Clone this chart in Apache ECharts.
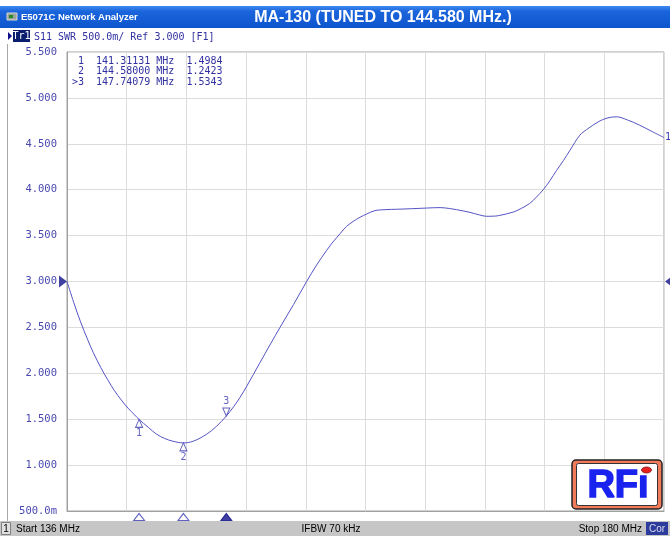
<!DOCTYPE html>
<html><head><meta charset="utf-8">
<script src="https://cdn.jsdelivr.net/npm/echarts@6/dist/echarts.min.js"></script>
<style>html,body{margin:0;padding:0;background:#fff}#c{width:670px;height:536px}</style>
</head><body><div id="c"></div>
<script>
const startMHz = 136, stopMHz = 180;
const freqMHz = [136.0,136.5,137.0,137.5,137.94,138.5,139.0,139.5,140.0,140.5,141.0,141.31,142.0,142.6,143.2,143.8,144.58,145.3,146.3,147.0,147.74,148.3,148.75,149.25,150.2,151.0,151.7,152.7,153.66,154.4,155.14,155.6,156.12,156.6,157.1,157.6,158.08,158.7,159.5,160.3,161.4,162.5,163.5,164.2,164.7,165.7,166.4,166.93,167.5,167.9,168.9,169.4,170.1,170.6,171.1,171.6,172.08,172.6,173.07,173.8,174.3,175.15,175.8,176.5,177.3,178.2,179.1,180.0];
const swr = [3.00,2.77,2.56,2.375,2.225,2.06,1.93,1.81,1.71,1.62,1.545,1.498,1.41,1.337,1.29,1.26,1.242,1.26,1.337,1.42,1.534,1.64,1.737,1.86,2.11,2.32,2.50,2.75,3.00,3.18,3.34,3.43,3.52,3.60,3.655,3.70,3.735,3.772,3.783,3.787,3.793,3.80,3.805,3.795,3.783,3.753,3.725,3.71,3.712,3.72,3.757,3.79,3.85,3.92,4.00,4.10,4.21,4.32,4.43,4.594,4.655,4.739,4.78,4.794,4.76,4.703,4.635,4.568];
const markerNo = [1, 2, 3];
const markerFreq = [141.31131, 144.58000, 147.74079];
const markerSwr = [1.4984, 1.2423, 1.5343];
const activeMarker = 3;
const refLevel = 3.0, scaleDiv = 0.5, yMin = 0.5, yMax = 5.5;
const titleText = 'MA-130 (TUNED TO 144.580 MHz.)';

const span = stopMHz - startMHz;
const trace = freqMHz.map((f, i) => [f - startMHz, swr[i]]);
const blue = '#3a3ab0';
const mono = 'DejaVu Sans Mono';

const mkData = markerNo.map((n, i) => ({
  value: [markerFreq[i] - startMHz, markerSwr[i]],
  name: String(n),
  symbol: n === activeMarker ? 'path://M0,0L10,0L5,10Z' : 'path://M5,0L10,10L0,10Z',
  symbolOffset: n === activeMarker ? [0, -4] : [0, 4],
  label: {position: n === activeMarker ? 'top' : 'bottom'}
}));
const bottomData = markerNo.map((n, i) => ({
  value: [markerFreq[i] - startMHz, yMin],
  itemStyle: n === activeMarker ? {color: '#10108a', borderColor: '#10108a'} : {color: '#fff', borderColor: blue}
}));

const rows = markerNo.map((n, i) => (n === activeMarker ? '>' : ' ') + n + '  ' + markerFreq[i].toFixed(5) + ' MHz  ' + markerSwr[i].toFixed(4));

const chart = echarts.init(document.getElementById('c'), null, {renderer: 'canvas'});
chart.setOption({
  animation: false,
  backgroundColor: '#fff',
  grid: {left: 67, right: 6, top: 52, bottom: 25, show: true, borderColor: '#a0a0a0', borderWidth: 1},
  xAxis: {type: 'value', min: 0, max: span, interval: span / 10,
    axisLabel: {show: false}, axisTick: {show: false},
    axisLine: {show: true, lineStyle: {color: '#a0a0a0'}},
    splitLine: {show: true, lineStyle: {color: '#dcdcdc', width: 1}}},
  yAxis: {type: 'value', min: yMin, max: yMax, interval: scaleDiv,
    axisLine: {show: true, lineStyle: {color: '#a0a0a0'}}, axisTick: {show: false},
    splitLine: {show: true, lineStyle: {color: '#dcdcdc', width: 1}},
    axisLabel: {margin: 10, color: '#4848b0', fontFamily: mono, fontSize: 10.5,
      formatter: v => v < 1 ? (v * 1000).toFixed(1) + 'm' : v.toFixed(3)}},
  series: [
    {type: 'line', data: trace, showSymbol: false, smooth: 0.35,
      lineStyle: {color: '#5454c4', width: 1}, itemStyle: {color: '#5454c4'},
      endLabel: {show: true, formatter: '1', color: blue, fontFamily: mono, fontSize: 10, distance: 1}},
    {type: 'scatter', data: mkData, symbolSize: [7, 8], clip: false,
      itemStyle: {color: '#fff', borderColor: blue, borderWidth: 1},
      label: {show: true, formatter: p => p.name, color: blue, fontFamily: mono, fontSize: 10, distance: 1}},
    {type: 'scatter', data: bottomData, symbol: 'triangle', symbolSize: [11, 7], symbolOffset: [0, 6], clip: false,
      itemStyle: {borderWidth: 1}},
    {type: 'scatter', data: [[0, refLevel]], symbol: 'path://M0,0L10,5L0,10Z', symbolSize: [8, 12], symbolOffset: [-4, 0], clip: false,
      itemStyle: {color: '#10108a'}},
    {type: 'scatter', data: [[span, refLevel]], symbol: 'path://M10,0L0,5L10,10Z', symbolSize: [8, 12], symbolOffset: [5, 0], clip: false,
      itemStyle: {color: '#10108a'}}
  ],
  graphic: [
    {type: 'rect', shape: {x: 0, y: 6, width: 670, height: 22}, silent: true,
      style: {fill: new echarts.graphic.LinearGradient(0, 0, 0, 1, [{offset: 0, color: '#3f8af0'}, {offset: 0.25, color: '#1a64dc'}, {offset: 1, color: '#0d55cc'}])}},
    {type: 'rect', shape: {x: 7, y: 13, width: 10, height: 7}, style: {fill: '#9aa39a', stroke: '#d8d8d8', lineWidth: 1}},
    {type: 'rect', shape: {x: 9, y: 15, width: 4, height: 3}, style: {fill: '#2a8a2a'}},
    {type: 'text', x: 21, y: 17, style: {text: 'E5071C Network Analyzer', fill: '#fff', font: 'bold 9.5px "Liberation Sans"', textVerticalAlign: 'middle'}},
    {type: 'text', x: 383, y: 17.5, style: {text: titleText, fill: '#fff', font: 'bold 16px "Liberation Sans"', textAlign: 'center', textVerticalAlign: 'middle'}},
    {type: 'polygon', shape: {points: [[8, 32], [12, 36], [8, 40]]}, style: {fill: '#10108a'}},
    {type: 'rect', shape: {x: 13, y: 30, width: 17, height: 12}, style: {fill: '#0a1e6e'}},
    {type: 'text', x: 21.5, y: 36.5, style: {text: 'Tr1', fill: '#fff', font: '10px "DejaVu Sans Mono"', textAlign: 'center', textVerticalAlign: 'middle'}},
    {type: 'text', x: 34, y: 37, style: {text: 'S11 SWR ' + (scaleDiv * 1000).toFixed(1) + 'm/ Ref ' + refLevel.toFixed(3) + ' [F1]', fill: '#3030a0', font: '10px "DejaVu Sans Mono"', textVerticalAlign: 'middle'}},
    {type: 'line', shape: {x1: 7.5, y1: 44, x2: 7.5, y2: 521}, style: {stroke: '#a8a8a8', lineWidth: 1}},
    {type: 'text', x: 72, y: 56, style: {text: rows.join('\n'), fill: '#3030a0', font: '10px "DejaVu Sans Mono"', lineHeight: 10.5, textVerticalAlign: 'top'}},
    {type: 'rect', shape: {x: 0, y: 521, width: 670, height: 15}, style: {fill: '#c6c6c6'}},
    {type: 'rect', shape: {x: 1.5, y: 522.5, width: 9, height: 12}, style: {fill: '#e0e0e0', stroke: '#808080', lineWidth: 1}},
    {type: 'text', x: 6, y: 529, style: {text: '1', fill: '#000', font: '10px "Liberation Sans"', textAlign: 'center', textVerticalAlign: 'middle'}},
    {type: 'text', x: 16, y: 529, style: {text: 'Start ' + startMHz + ' MHz', fill: '#000', font: '10px "Liberation Sans"', textVerticalAlign: 'middle'}},
    {type: 'text', x: 331, y: 529, style: {text: 'IFBW 70 kHz', fill: '#000', font: '10px "Liberation Sans"', textAlign: 'center', textVerticalAlign: 'middle'}},
    {type: 'text', x: 642, y: 529, style: {text: 'Stop ' + stopMHz + ' MHz', fill: '#000', font: '10px "Liberation Sans"', textAlign: 'right', textVerticalAlign: 'middle'}},
    {type: 'rect', shape: {x: 646, y: 522, width: 22, height: 13}, style: {fill: '#2c3c9c'}},
    {type: 'text', x: 657, y: 529, style: {text: 'Cor', fill: '#dde', font: '10px "Liberation Sans"', textAlign: 'center', textVerticalAlign: 'middle'}},
    {type: 'group', z: 100, children: [
      {type: 'rect', z: 100, shape: {x: 572, y: 460, width: 90, height: 49, r: 4}, style: {fill: '#f07a5a', stroke: '#222', lineWidth: 1.5}},
      {type: 'rect', z: 101, shape: {x: 576.5, y: 463.5, width: 81, height: 42, r: 2}, style: {fill: '#fff', stroke: '#333', lineWidth: 1}},
      {type: 'text', z: 102, x: 618, y: 487, style: {text: 'RF\u0131', fill: '#1a22ee', stroke: '#1a22ee', lineWidth: 1.5, font: 'bold 38px "Liberation Sans"', textAlign: 'center', textVerticalAlign: 'middle'}},
      {type: 'ellipse', z: 103, shape: {cx: 646.5, cy: 470, rx: 5, ry: 3}, style: {fill: '#e82020', stroke: '#801010', lineWidth: 0.8}}
    ]}
  ]
});
</script></body></html>
